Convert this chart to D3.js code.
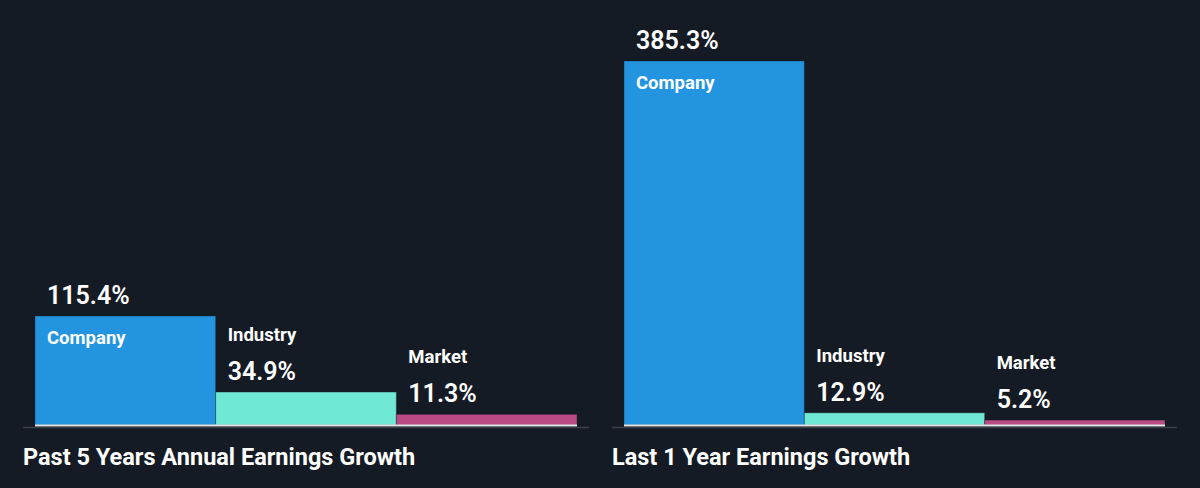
<!DOCTYPE html>
<html><head><meta charset="utf-8">
<script src="https://cdn.jsdelivr.net/npm/d3@7"></script>
<style>
html,body{margin:0;padding:0;background:#151b24;}
svg{display:block;}
text{font-family:Roboto,"Noto Sans",sans-serif;fill:#ffffff;}
</style></head>
<body>
<svg id="chart" width="1200" height="488"></svg>
<script>
const categories = ["Company", "Industry", "Market"];
const panelTitles = ["Past 5 Years Annual Earnings Growth", "Last 1 Year Earnings Growth"];
const past5Years = [115.4, 34.9, 11.3];
const last1Year = [385.3, 12.9, 5.2];
const colors = ["#2394df", "#6fe8d6", "#b94a84"];

const svg = d3.select("#chart");
const baseY = 425;
const y = d3.scaleLinear().domain([0, 385.3]).range([baseY, 61]);

const panels = [
  {title: panelTitles[0], values: past5Years, x0: 35, x1: 577, ax0: 23, ax1: 589},
  {title: panelTitles[1], values: last1Year, x0: 624, x1: 1165, ax0: 612, ax1: 1177}
];

panels.forEach(p => {
  const g = svg.append("g");
  const x = d3.scaleBand().domain(categories).range([p.x0, p.x1]).padding(0);
  const data = categories.map((c, i) => ({c, v: p.values[i], color: colors[i]}));

  g.selectAll("rect.bar").data(data).enter().append("rect")
    .attr("class", "bar")
    .attr("x", d => x(d.c))
    .attr("y", d => y(d.v))
    .attr("width", x.bandwidth())
    .attr("height", d => baseY - y(d.v))
    .attr("fill", d => d.color)
    .attr("stroke", "rgba(21,27,36,0.35)")
    .attr("stroke-width", 1);

  g.append("line")
    .attr("x1", p.x0).attr("x2", p.x1)
    .attr("y1", baseY + 0.5).attr("y2", baseY + 0.5)
    .attr("stroke", "#e6e8ea").attr("stroke-width", 2);
  g.append("line")
    .attr("x1", p.ax0).attr("x2", p.ax1)
    .attr("y1", baseY + 2.5).attr("y2", baseY + 2.5)
    .attr("stroke", "#3b4049").attr("stroke-width", 1.5);

  data.forEach((d, i) => {
    const tx = x(d.c) + 12;
    const top = y(d.v);
    const valBase = top - 12;
    g.append("text")
      .attr("x", tx).attr("y", valBase)
      .attr("font-size", 25).attr("font-weight", 600)
      .text(d.v.toFixed(1) + "%");
    g.append("text")
      .attr("x", tx).attr("y", i === 0 ? top + 28 : valBase - 39)
      .attr("font-size", 18.5).attr("font-weight", 700)
      .text(d.c);
  });

  g.append("text")
    .attr("x", p.ax0).attr("y", 465)
    .attr("font-size", 23.5).attr("font-weight", 700)
    .text(p.title);
});
</script>
</body></html>
